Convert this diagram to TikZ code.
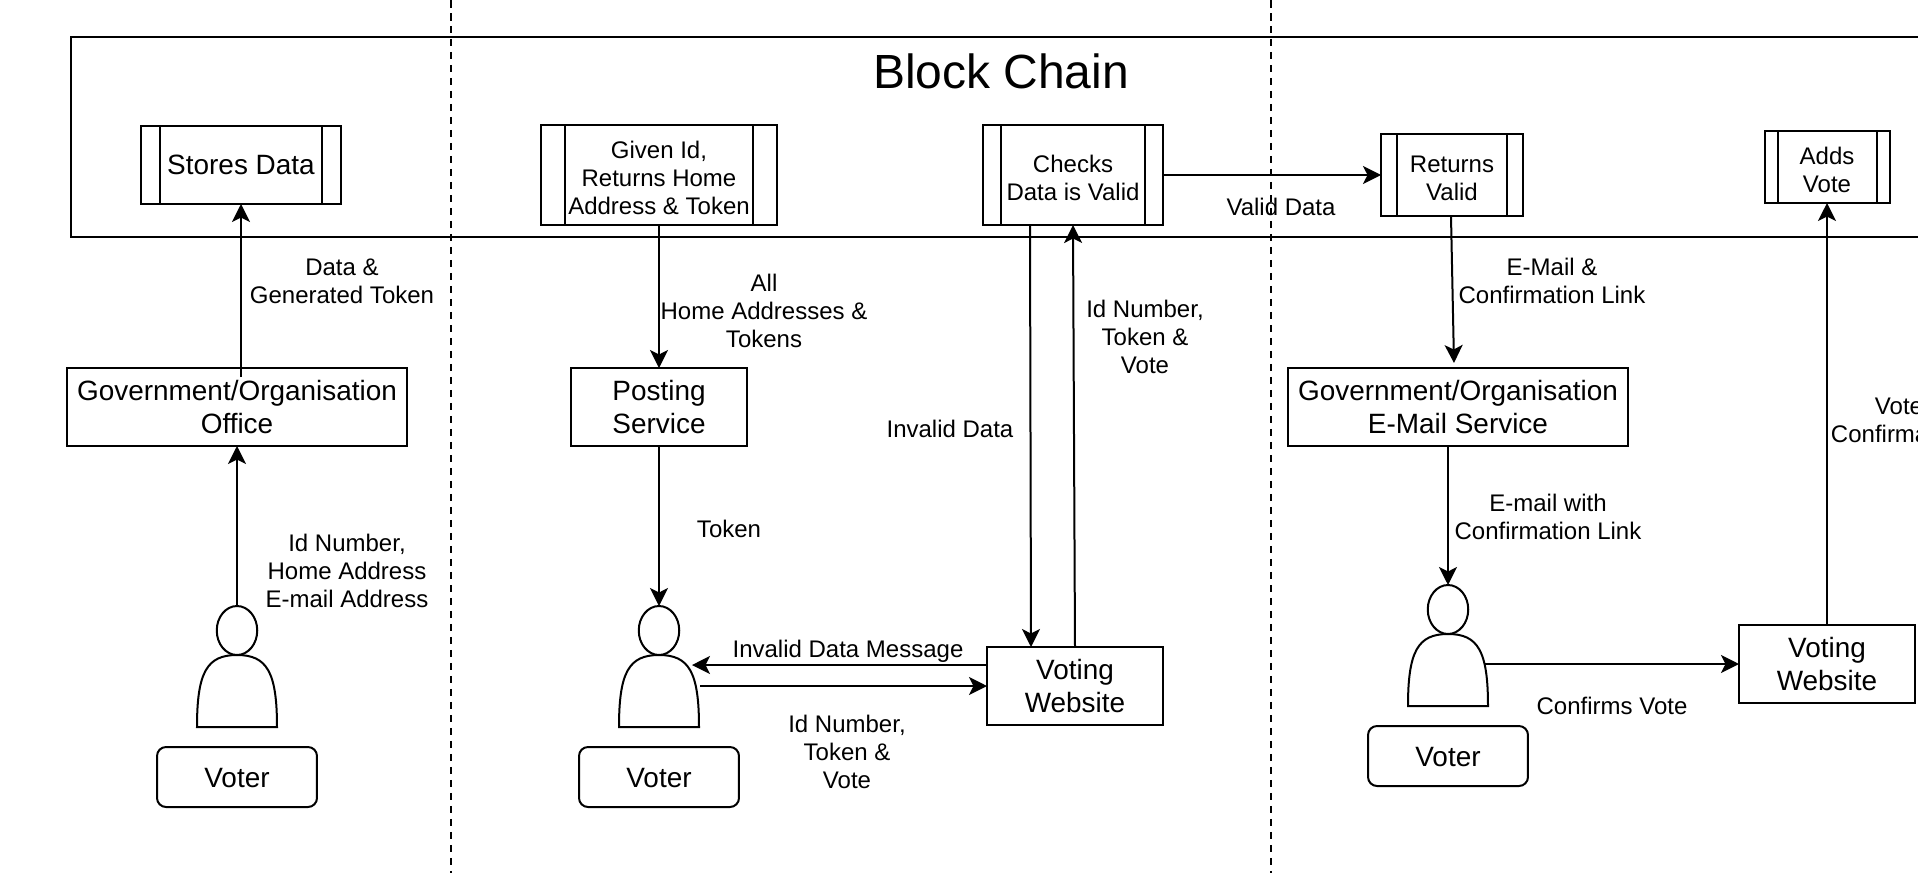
\documentclass[tikz,border=0pt]{standalone}
\usepackage{fontspec}
\setmainfont{Liberation Sans}
\usetikzlibrary{arrows.meta,shapes.geometric}

\tikzset{
  bigtext/.style={font=\fontsize{15.9}{18.8}\selectfont, align=center},
  smalltext/.style={font=\fontsize{13.66}{15.9}\selectfont, align=center},
  label/.style={smalltext, inner sep=0pt},
  box/.style={draw, outer sep=0pt, inner sep=0pt},
  voterbox/.style={box, bigtext, text height=12.5pt, rounded corners=0.18cm, minimum width=3.2cm, minimum height=1.2cm},
  flow/.style={-{Stealth[length=0.36cm,width=0.36cm,inset=0.09cm]}},
  divider/.style={dash pattern=on 0.15cm off 0.11cm},
}

% side bars of a process box: name, inset
\newcommand{\procbars}[2]{
  \draw ([xshift=#2*0.02cm]#1.north west) -- ([xshift=#2*0.02cm]#1.south west);
  \draw ([xshift=-#2*0.02cm]#1.north east) -- ([xshift=-#2*0.02cm]#1.south east);
}

% voter figure: head name, centre x, top of head
\newcommand{\voterfig}[3]{
  \node[draw, ellipse, outer sep=0pt, inner sep=0pt, minimum width=0.81cm, minimum height=0.98cm] (#1) at (#2,#3+24.5) {};
  \draw (#2-40,#3+121) .. controls (#2-40,#3+66) and (#2-30,#3+49) .. (#2,#3+49)
    .. controls (#2+30,#3+49) and (#2+40,#3+66) .. (#2+40,#3+121) -- cycle;
}

\begin{document}
\begin{tikzpicture}[x=0.02cm, y=-0.02cm, line width=0.04cm]

  \useasboundingbox (0,0) rectangle (1918,873);
  \clip (0,0) rectangle (1918,873);

  % Dividers
  \coordinate (divAtop) at (451,0);
  \coordinate (divAbot) at (451,873);
  \coordinate (divBtop) at (1271,0);
  \coordinate (divBbot) at (1271,873);
  \draw[divider] (divAtop) -- (divAbot);
  \draw[divider] (divBtop) -- (divBbot);

  % Block chain band, runs off the right side
  \draw (71,37) rectangle (1960,237);
  \node[font=\fontsize{27.3}{32}\selectfont] (title) at (1001,71) {Block Chain};

  % Processes in the chain
  \node[box, bigtext, minimum width=4cm, minimum height=1.56cm] (stores) at (241,165) {Stores Data};
  \procbars{stores}{19}
  \node[box, smalltext, minimum width=4.72cm, minimum height=2cm, text height=44.6pt] (given) at (659,175) {Given Id,\\Returns Home\\Address \& Token};
  \procbars{given}{24}
  \node[box, smalltext, minimum width=3.6cm, minimum height=2cm, text height=28.7pt] (checks) at (1073,175) {Checks\\Data is Valid};
  \procbars{checks}{18}
  \node[box, smalltext, minimum width=2.84cm, minimum height=1.64cm, text height=28.7pt] (returns) at (1452,175) {Returns\\Valid};
  \procbars{returns}{16}
  \node[box, smalltext, minimum width=2.5cm, minimum height=1.44cm, text height=28.7pt] (adds) at (1827,167) {Adds\\Vote};
  \procbars{adds}{13}

  % Services
  \node[box, bigtext, minimum width=6.8cm, minimum height=1.56cm] (office) at (237,407) {Government/Organisation\\Office};
  \node[box, bigtext, minimum width=3.52cm, minimum height=1.56cm] (posting) at (659,407) {Posting\\Service};
  \node[box, bigtext, minimum width=6.8cm, minimum height=1.56cm] (mail) at (1458,407) {Government/Organisation\\E-Mail Service};
  \node[box, bigtext, minimum width=3.52cm, minimum height=1.56cm] (siteA) at (1075,686) {Voting\\Website};
  \node[box, bigtext, minimum width=3.52cm, minimum height=1.56cm] (siteB) at (1827,664) {Voting\\Website};

  % Voters
  \voterfig{headA}{237}{606}
  \voterfig{headB}{659}{606}
  \voterfig{headC}{1448}{585}
  \node[voterbox] (voterA) at (237,777) {Voter};
  \node[voterbox] (voterB) at (659,777) {Voter};
  \node[voterbox] (voterC) at (1448,756) {Voter};

  % Free ends
  \coordinate (officeOut) at (241,377);
  \coordinate (invalidTop) at (1030,225);
  \coordinate (invalidBot) at (1031,647);
  \coordinate (validBot) at (1075,647);
  \coordinate (validTop) at (1073,225);
  \coordinate (returnsOut) at (1451,216);
  \coordinate (mailIn) at (1454,363);
  \coordinate (msgOut) at (987,665);
  \coordinate (msgIn) at (692,665);
  \coordinate (sendOut) at (700,686);
  \coordinate (sendIn) at (987,686);
  \coordinate (confirmOut) at (1484,664);
  \coordinate (confirmIn) at (1739,664);

  % Connectors
  \draw[flow] (headA.north) -- (office.south);
  \draw[flow] (officeOut) -- (stores.south);
  \draw[flow] (given.south) -- (posting.north);
  \draw[flow] (posting.south) -- (headB.north);
  \draw[flow] (invalidTop) -- (invalidBot);
  \draw[flow] (validBot) -- (validTop);
  \draw[flow] (checks.east) -- (returns.west);
  \draw[flow] (returnsOut) -- (mailIn);
  \draw[flow] (headC.north |- mail.south) -- (headC.north);
  \draw[flow] (msgOut) -- (msgIn);
  \draw[flow] (sendOut) -- (sendIn);
  \draw[flow] (confirmOut) -- (confirmIn);
  \draw[flow] (siteB.north) -- (adds.south);

  % Labels
  \node[label] (lblData) at (342,281) {Data \&\\Generated Token};
  \node[label] (lblId) at (347,571) {Id Number,\\Home Address\\E-mail Address};
  \node[label] (lblAll) at (764,311) {All\\Home Addresses \&\\Tokens};
  \node[label] (lblToken) at (729,529) {Token};
  \node[label] (lblInvalid) at (950,429) {Invalid Data};
  \node[label] (lblVote) at (1145,337) {Id Number,\\Token \&\\Vote};
  \node[label] (lblValid) at (1281,207) {Valid Data};
  \node[label] (lblMsg) at (848,651) {Invalid Data Message};
  \node[label] (lblSend) at (847,752) {Id Number,\\Token \&\\Vote};
  \node[label] (lblLink) at (1552,281) {E-Mail \&\\Confirmation Link};
  \node[label] (lblMail) at (1548,517) {E-mail with\\Confirmation Link};
  \node[label] (lblConfirms) at (1612,706) {Confirms Vote};
  \node[label] (lblCut) at (1899,420) {Vote\\Confirmation};

\end{tikzpicture}
\end{document}
